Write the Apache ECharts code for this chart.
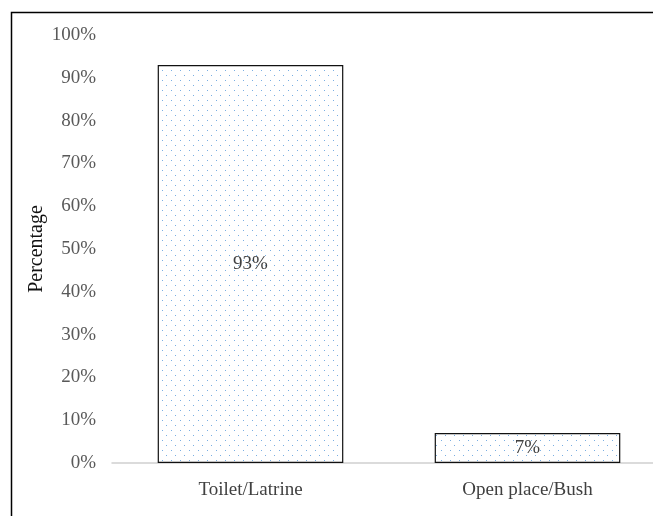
<!DOCTYPE html>
<html><head><meta charset="utf-8">
<script src="https://cdn.jsdelivr.net/npm/echarts@6/dist/echarts.min.js"></script>
<style>html,body{margin:0;padding:0;background:#fff;overflow:hidden}#c{width:666px;height:516px}</style>
</head><body><div id="c"></div>
<script>
const categories = ['Toilet/Latrine', 'Open place/Bush'];
const values = [93, 7];
const yTicks = [0, 10, 20, 30, 40, 50, 60, 70, 80, 90, 100];

const pc = document.createElement('canvas');
pc.width = 9; pc.height = 10;
const px = pc.getContext('2d');
px.fillStyle = '#ffffff'; px.fillRect(0, 0, 9, 10);
px.fillStyle = '#7aaee2';
px.fillRect(0, 0, 1, 1);
px.fillRect(4, 5, 1, 1);

const chart = echarts.init(document.getElementById('c'), null, {renderer: 'canvas'});
chart.setOption({
  animation: false,
  backgroundColor: '#fff',
  graphic: [{type: 'rect', left: 9, top: 10, shape: {width: 700, height: 600}, style: {fill: 'none', stroke: '#000', lineWidth: 1.5}, z: 100, silent: true}],
  grid: {left: 112, top: 35, right: 0, height: 428},
  xAxis: {
    type: 'category', data: categories,
    axisLine: {lineStyle: {color: '#d0d0d0', width: 1.5}},
    axisTick: {show: false},
    axisLabel: {color: '#404040', fontFamily: 'Liberation Serif', fontSize: 19, margin: 18}
  },
  yAxis: {
    type: 'value', min: 0, max: 100, interval: 10,
    name: 'Percentage', nameLocation: 'middle', nameGap: 65, nameRotate: 90, nameMoveOverlap: false,
    nameTextStyle: {color: '#111', fontFamily: 'Liberation Serif', fontSize: 20},
    axisLine: {show: false}, axisTick: {show: false}, splitLine: {show: false},
    axisLabel: {color: '#595959', fontFamily: 'Liberation Serif', fontSize: 19, margin: 16,
      formatter: v => yTicks.includes(v) ? v + '%' : ''}
  },
  series: [{
    type: 'bar', data: values, barWidth: '67%',
    itemStyle: {color: {image: pc, repeat: 'repeat'}, borderColor: '#111', borderWidth: 1.2},
    label: {show: true, position: 'inside', formatter: '{c}%', color: '#404040', fontFamily: 'Liberation Serif', fontSize: 19}
  }]
});
</script></body></html>
